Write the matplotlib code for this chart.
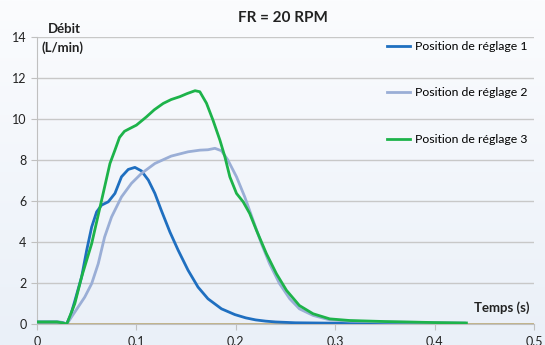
import matplotlib
matplotlib.use("Agg")
import matplotlib.pyplot as plt
import numpy as np

# Position de réglage 1
x1 = [0, 0.01, 0.02, 0.025, 0.0298, 0.034, 0.0382, 0.0449, 0.050, 0.055, 0.060, 0.065,
      0.0717, 0.0784, 0.085, 0.0918, 0.0985, 0.105, 0.112, 0.1186, 0.125, 0.1337,
      0.142, 0.152, 0.162, 0.172, 0.1856, 0.199, 0.21, 0.22, 0.23, 0.24, 0.25, 0.26,
      0.28, 0.30, 0.35, 0.40, 0.43]
y1 = [0.1, 0.1, 0.1, 0.08, 0.0, 0.45, 1.15, 2.3, 3.6, 4.73, 5.47, 5.8,
      5.96, 6.37, 7.18, 7.54, 7.64, 7.47, 7.02, 6.37, 5.55, 4.49,
      3.6, 2.62, 1.8, 1.23, 0.74, 0.46, 0.3, 0.2, 0.14, 0.1, 0.08, 0.06,
      0.05, 0.04, 0.03, 0.03, 0.03]

# Position de réglage 2
x2 = [0, 0.02, 0.027, 0.03, 0.038, 0.048, 0.055, 0.0616, 0.068, 0.075, 0.085, 0.095,
      0.105, 0.1186, 0.135, 0.152, 0.1638, 0.172, 0.179, 0.1856, 0.192, 0.2007,
      0.209, 0.2174, 0.2258, 0.234, 0.244, 0.2543, 0.264, 0.2777, 0.2945, 0.3146,
      0.35, 0.40, 0.43]
y2 = [0.1, 0.1, 0.05, 0.0, 0.58, 1.31, 1.97, 2.94, 4.24, 5.22, 6.2, 6.86,
      7.34, 7.83, 8.19, 8.4, 8.48, 8.5, 8.57, 8.45, 8.0, 7.18,
      6.2, 5.06, 3.92, 2.94, 1.97, 1.23, 0.74, 0.42, 0.2, 0.14,
      0.1, 0.07, 0.05]

# Position de réglage 3
x3 = [0, 0.02, 0.025, 0.03, 0.038, 0.0449, 0.055, 0.065, 0.0734, 0.0784, 0.083,
      0.088, 0.0935, 0.100, 0.105, 0.110, 0.118, 0.127, 0.135, 0.1437, 0.151, 0.159,
      0.1638, 0.1705, 0.177, 0.184, 0.189, 0.194, 0.2007, 0.2074, 0.214, 0.2208,
      0.2308, 0.2409, 0.251, 0.264, 0.2777, 0.2945, 0.3146, 0.35, 0.40, 0.432]
y3 = [0.1, 0.1, 0.06, 0.0, 0.99, 2.3, 3.92, 6.04, 7.83, 8.48, 9.1,
      9.4, 9.54, 9.7, 9.9, 10.1, 10.45, 10.76, 10.95, 11.09, 11.24, 11.38,
      11.33, 10.77, 9.95, 8.97, 8.16, 7.18, 6.37, 5.96, 5.39, 4.57,
      3.43, 2.45, 1.64, 0.9, 0.5, 0.25, 0.17, 0.12, 0.07, 0.05]

# série à zéro
x0 = [0, 0.5]
y0 = [0, 0]

labels = ["Position de réglage 1", "Position de réglage 2", "Position de réglage 3"]
colors = ["#1f6fc0", "#9aaed6", "#1db34a"]

plt.rcParams["font.family"] = ["Lato", "DejaVu Sans"]

fig = plt.figure(figsize=(5.45, 3.45), dpi=100)

# fond dégradé
bg = fig.add_axes([0, 0, 1, 1], zorder=-10)
grad = np.linspace(0, 1, 256).reshape(-1, 1)
cmap = matplotlib.colors.LinearSegmentedColormap.from_list("bg", ["#fbfcfe", "#eaf0f8"])
bg.imshow(grad, aspect="auto", cmap=cmap, extent=[0, 1, 0, 1])
bg.axis("off")

ax = fig.add_axes([37 / 545, 1 - 324 / 345, 497 / 545, 287 / 345])
ax.patch.set_alpha(0)

ax.plot(x0, y0, color="#b8a36b", lw=1.8, zorder=2)
for x, y, c, lab in zip([x1, x2, x3], [y1, y2, y3], colors, labels):
    ax.plot(x, y, color=c, lw=2, label=lab, zorder=3, solid_joinstyle="round")

ax.set_xlim(0, 0.5)
ax.set_ylim(0, 14)
ax.set_xticks(np.arange(0, 0.51, 0.1))
ax.set_xticklabels(["0", "0.1", "0.2", "0.3", "0.4", "0.5"])
ax.set_yticks(range(0, 15, 2))
ax.yaxis.grid(True, color="#c8c8c8", lw=1)
ax.set_axisbelow(True)
for s in ["top", "right"]:
    ax.spines[s].set_visible(False)
ax.spines["left"].set_color("#c0c0c0")
ax.spines["bottom"].set_color("#c0c0c0")
ax.tick_params(colors="#c0c0c0", labelcolor="#222222", labelsize=9, length=4)
ax.tick_params(axis="x", pad=5)

fig.text(283 / 545, 1 - 18 / 345, "FR = 20 RPM", ha="center", va="center",
         fontsize=11, fontweight="bold", color="#222222")
fig.text(48 / 545, 1 - 29 / 345, "Débit", ha="left", va="center",
         fontsize=9.5, fontweight="bold", color="#222222")
fig.text(42 / 545, 1 - 48 / 345, "(L/min)", ha="left", va="center",
         fontsize=9.5, fontweight="bold", color="#222222")
fig.text(530 / 545, 1 - 308 / 345, "Temps (s)", ha="right", va="center",
         fontsize=9.5, fontweight="bold", color="#222222")

ax.legend(loc="upper left", bbox_to_anchor=(387 / 545, 1 - 41 / 345),
          bbox_transform=fig.transFigure, frameon=False, fontsize=8.8,
          labelspacing=2.9, handlelength=1.9, handletextpad=0.4,
          borderpad=0, borderaxespad=0)

fig.savefig("out.png", dpi=100)
